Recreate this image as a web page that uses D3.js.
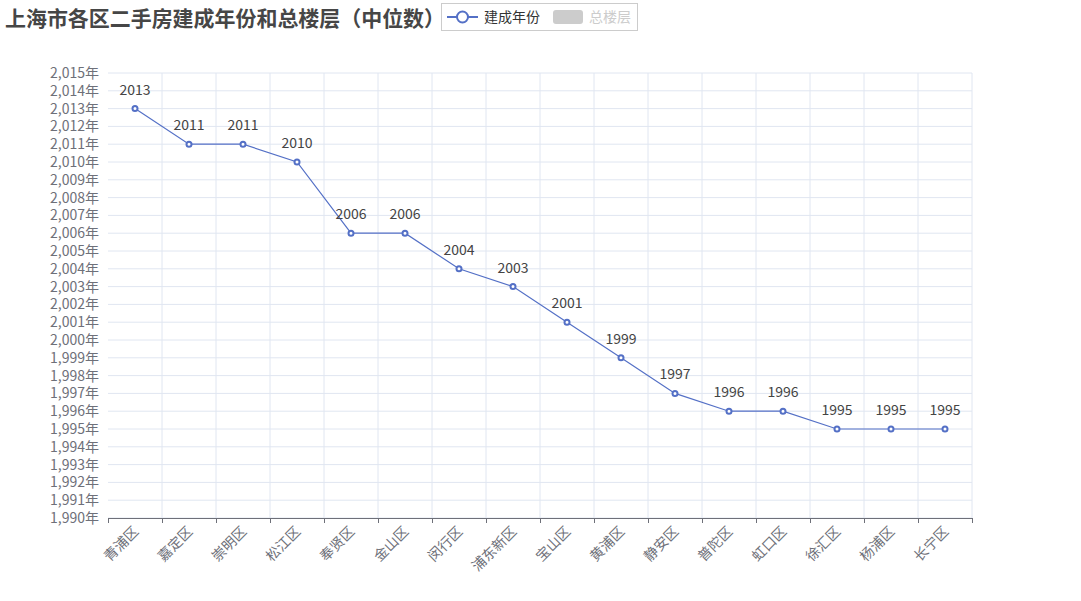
<!DOCTYPE html>
<html><head><meta charset="utf-8">
<script src="https://cdn.jsdelivr.net/npm/d3@7"></script>
<style>body{margin:0;background:#fff;font-family:"Noto Sans CJK SC","Noto Sans",sans-serif;}</style>
</head><body>
<svg id="c" width="1081" height="601"></svg>
<script>
const categories = ["青浦区","嘉定区","崇明区","松江区","奉贤区","金山区","闵行区","浦东新区","宝山区","黄浦区","静安区","普陀区","虹口区","徐汇区","杨浦区","长宁区"];
const builtYear = [2013,2011,2011,2010,2006,2006,2004,2003,2001,1999,1997,1996,1996,1995,1995,1995];
const yTicks = d3.range(1990, 2016);
const title = "上海市各区二手房建成年份和总楼层（中位数）";
const legendItems = ["建成年份","总楼层"];

const svg = d3.select("#c");
const font = '"Noto Sans CJK SC","Noto Sans",sans-serif';
const m = {left:108, right:972, top:73, bottom:518};
const x = d3.scaleBand().domain(categories).range([m.left, m.right]);
const y = d3.scaleLinear().domain([1990, 2015]).range([m.bottom, m.top]);
const fmt = d3.format(",");

// grid horizontal
svg.append("g").selectAll("line").data(yTicks).join("line")
  .attr("x1", m.left).attr("x2", m.right)
  .attr("y1", d=>y(d)).attr("y2", d=>y(d))
  .attr("stroke", "#e0e6f1").attr("stroke-width",1);
// grid vertical
const bounds = categories.map(c=>x(c)).concat([m.right]);
svg.append("g").selectAll("line").data(bounds.slice(1)).join("line")
  .attr("x1", d=>d).attr("x2", d=>d).attr("y1", m.top).attr("y2", m.bottom)
  .attr("stroke", "#e0e6f1").attr("stroke-width",1);

// y labels
svg.append("g").selectAll("text").data(yTicks).join("text")
  .attr("x", m.left-9).attr("y", d=>y(d)).attr("dy","0.35em")
  .attr("text-anchor","end").attr("font-family",font).attr("font-size",14)
  .attr("fill","#6e7079").text(d=>fmt(d)+"年");

// x axis line and ticks
svg.append("line").attr("x1",m.left).attr("x2",m.right).attr("y1",m.bottom+0.5).attr("y2",m.bottom+0.5)
  .attr("stroke","#6e7079").attr("stroke-width",1);
svg.append("g").selectAll("line").data(bounds).join("line")
  .attr("x1", d=>d+0.5).attr("x2", d=>d+0.5).attr("y1", m.bottom).attr("y2", m.bottom+5)
  .attr("stroke","#6e7079");
// x labels rotated
svg.append("g").selectAll("text").data(categories).join("text")
  .attr("transform", d=>`translate(${x(d)+x.bandwidth()/2+1},${m.bottom+11}) rotate(-45)`)
  .attr("text-anchor","end").attr("dy","0.35em")
  .attr("font-family",font).attr("font-size",14).attr("fill","#6e7079").text(d=>d);

// line
const pts = categories.map((c,i)=>[x(c)+x.bandwidth()/2, y(builtYear[i])]);
svg.append("path").attr("d", d3.line()(pts)).attr("fill","none").attr("stroke","#5470c6").attr("stroke-width",1.2);
svg.append("g").selectAll("circle").data(pts).join("circle")
  .attr("cx",d=>d[0]).attr("cy",d=>d[1]).attr("r",2.5)
  .attr("fill","#fff").attr("stroke","#5470c6").attr("stroke-width",2);
svg.append("g").selectAll("text").data(pts).join("text")
  .attr("x",d=>d[0]).attr("y",(d,i)=>d[1]-14)
  .attr("text-anchor","middle").attr("font-family",font).attr("font-size",14)
  .attr("fill","#444").text((d,i)=>builtYear[i]);

// title
svg.append("text").attr("x",5).attr("y",26).attr("font-family",font).attr("font-size",21)
  .attr("font-weight","bold").attr("fill","#464646").attr("textLength",440).attr("lengthAdjust","spacingAndGlyphs").text(title);

// legend
svg.append("rect").attr("x",441.5).attr("y",3.5).attr("width",196).attr("height",27)
  .attr("fill","none").attr("stroke","#ccc");
svg.append("line").attr("x1",447).attr("x2",478).attr("y1",17).attr("y2",17).attr("stroke","#5470c6").attr("stroke-width",2);
svg.append("circle").attr("cx",462.5).attr("cy",17).attr("r",5.5).attr("fill","#fff").attr("stroke","#5470c6").attr("stroke-width",2);
svg.append("text").attr("x",484).attr("y",17).attr("dy","0.35em").attr("font-family",font).attr("font-size",14).attr("fill","#333").text(legendItems[0]);
svg.append("rect").attr("x",553).attr("y",10).attr("width",30).attr("height",14).attr("rx",3).attr("fill","#ccc");
svg.append("text").attr("x",589).attr("y",17).attr("dy","0.35em").attr("font-family",font).attr("font-size",14).attr("fill","#ccc").text(legendItems[1]);
</script>
</body></html>
